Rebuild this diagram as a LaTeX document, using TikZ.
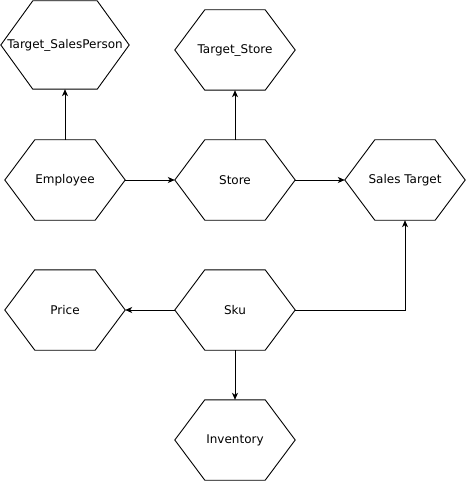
\documentclass[tikz,border=0pt]{standalone}
\usepackage{fontspec}
\setmainfont{DejaVu Sans}
\usetikzlibrary{arrows.meta,calc}

\tikzset{
  hexa/.style={minimum width=120pt,minimum height=80pt,inner sep=0pt,
    font=\fontsize{12}{14}\selectfont,
    append after command={\pgfextra{\draw[line width=0.9pt,line join=miter]
      (\tikzlastnode.west) -- ([xshift=#1]\tikzlastnode.north west)
      -- ([xshift=-#1]\tikzlastnode.north east) -- (\tikzlastnode.east)
      -- ([xshift=-#1]\tikzlastnode.south east)
      -- ([xshift=#1]\tikzlastnode.south west) -- cycle;}}},
  hexa/.default=30pt,
  link/.style={draw,line width=0.9pt,-{Stealth[length=7pt,width=6pt,inset=2pt]}}
}

\begin{document}
\begin{tikzpicture}[x=1pt,y=-1pt]
\useasboundingbox (0,0) rectangle (466,481);
% entities
\node[hexa=32pt,minimum width=128pt,minimum height=88pt] (tsp) at (65,45) {Target\_SalesPerson};
\node[hexa] (tstore) at (235,50) {Target\_Store};
\node[hexa] (emp) at (65,180) {Employee};
\node[hexa] (store) at (235,180) {Store};
\node[hexa] (starget) at (405,180) {Sales Target};
\node[hexa] (price) at (65,310) {Price};
\node[hexa] (sku) at (235,310) {Sku};
\node[hexa] (inv) at (235,440) {Inventory};
% links
\draw[link] (emp.north) -- (tsp.south);
\draw[link] (store.north) -- (tstore.south);
\draw[link] (emp.east) -- (store.west);
\draw[link] (store.east) -- (starget.west);
\draw[link] (sku.east) -| (starget.south);
\draw[link] (sku.west) -- (price.east);
\draw[link] (sku.south) -- (inv.north);
\end{tikzpicture}
\end{document}
